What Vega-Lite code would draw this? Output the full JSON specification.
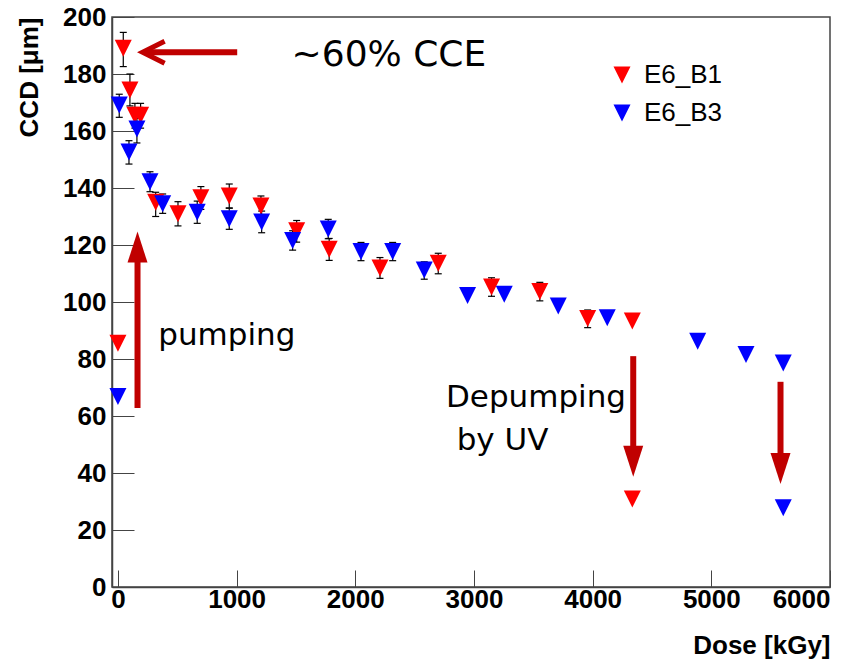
{
  "$schema": "https://vega.github.io/schema/vega-lite/v6.json",
  "width": 718,
  "height": 570,
  "autosize": {"type": "none"},
  "padding": {"left": 112, "top": 17, "right": 26, "bottom": 76},
  "background": "white",
  "config": {
    "view": {"stroke": "#444444", "strokeWidth": 1.5},
    "axis": {
      "domainColor": "#444444", "domainWidth": 1.5, "tickColor": "#444444", "tickWidth": 1,
      "labelFont": "Liberation Sans", "labelFontWeight": "bold", "labelFontSize": 26, "labelColor": "black",
      "titleFont": "Liberation Sans", "titleFontWeight": "bold", "titleFontSize": 26, "titleColor": "black",
      "grid": false, "format": "d"
    },
    "axisX": {"tickSize": -17, "labelPadding": 16, "titleAnchor": "end", "titlePadding": 20, "tickCount": 6},
    "axisY": {"tickSize": -22, "labelPadding": 28, "titleAnchor": "end", "titlePadding": 20, "tickCount": 10}
  },
  "datasets": {
    "pts": [
      {"series": "E6_B1", "x": 0, "y": 85.5},
      {"series": "E6_B1", "x": 45, "y": 189.0},
      {"series": "E6_B1", "x": 101, "y": 174.4},
      {"series": "E6_B1", "x": 143, "y": 165.5},
      {"series": "E6_B1", "x": 191, "y": 165.5},
      {"series": "E6_B1", "x": 318, "y": 135.0},
      {"series": "E6_B1", "x": 506, "y": 131.0},
      {"series": "E6_B1", "x": 699, "y": 136.6},
      {"series": "E6_B1", "x": 938, "y": 137.2},
      {"series": "E6_B1", "x": 1205, "y": 133.7},
      {"series": "E6_B1", "x": 1506, "y": 125.0},
      {"series": "E6_B1", "x": 1780, "y": 118.5},
      {"series": "E6_B1", "x": 2208, "y": 111.9},
      {"series": "E6_B1", "x": 2699, "y": 113.6},
      {"series": "E6_B1", "x": 3148, "y": 105.3},
      {"series": "E6_B1", "x": 3555, "y": 103.7},
      {"series": "E6_B1", "x": 3958, "y": 94.2},
      {"series": "E6_B1", "x": 4334, "y": 93.3},
      {"series": "E6_B1", "x": 4334, "y": 30.9},
      {"series": "E6_B3", "x": 0, "y": 66.8},
      {"series": "E6_B3", "x": 11, "y": 169.1},
      {"series": "E6_B3", "x": 93, "y": 152.6},
      {"series": "E6_B3", "x": 160, "y": 160.7},
      {"series": "E6_B3", "x": 270, "y": 142.2},
      {"series": "E6_B3", "x": 377, "y": 134.5},
      {"series": "E6_B3", "x": 668, "y": 131.5},
      {"series": "E6_B3", "x": 938, "y": 129.2},
      {"series": "E6_B3", "x": 1211, "y": 128.1},
      {"series": "E6_B3", "x": 1472, "y": 121.6},
      {"series": "E6_B3", "x": 1772, "y": 125.6},
      {"series": "E6_B3", "x": 2048, "y": 117.7},
      {"series": "E6_B3", "x": 2315, "y": 117.7},
      {"series": "E6_B3", "x": 2581, "y": 111.2},
      {"series": "E6_B3", "x": 2946, "y": 102.3},
      {"series": "E6_B3", "x": 3255, "y": 102.7},
      {"series": "E6_B3", "x": 3710, "y": 98.6},
      {"series": "E6_B3", "x": 4123, "y": 94.5},
      {"series": "E6_B3", "x": 4885, "y": 86.2},
      {"series": "E6_B3", "x": 5292, "y": 81.6},
      {"series": "E6_B3", "x": 5606, "y": 78.6},
      {"series": "E6_B3", "x": 5606, "y": 27.8}
    ],
    "errs": [
      {"x": 45, "lo": 182.6, "hi": 194.6},
      {"x": 101, "lo": 168.8, "hi": 180.0},
      {"x": 143, "lo": 161.0, "hi": 169.7},
      {"x": 191, "lo": 161.0, "hi": 169.7},
      {"x": 318, "lo": 130.0, "hi": 138.5},
      {"x": 506, "lo": 126.7, "hi": 135.2},
      {"x": 699, "lo": 132.5, "hi": 140.5},
      {"x": 938, "lo": 133.0, "hi": 141.4},
      {"x": 1205, "lo": 130.2, "hi": 137.2},
      {"x": 1506, "lo": 121.0, "hi": 128.6},
      {"x": 1780, "lo": 114.6, "hi": 122.3},
      {"x": 2208, "lo": 108.3, "hi": 115.6},
      {"x": 2699, "lo": 109.9, "hi": 117.1},
      {"x": 3148, "lo": 102.0, "hi": 108.5},
      {"x": 3555, "lo": 100.4, "hi": 106.9},
      {"x": 3958, "lo": 91.0, "hi": 97.2},
      {"x": 11, "lo": 164.8, "hi": 172.9},
      {"x": 93, "lo": 148.4, "hi": 156.6},
      {"x": 160, "lo": 155.8, "hi": 164.5},
      {"x": 270, "lo": 138.7, "hi": 145.7},
      {"x": 377, "lo": 131.1, "hi": 137.9},
      {"x": 668, "lo": 127.6, "hi": 135.4},
      {"x": 938, "lo": 125.5, "hi": 132.9},
      {"x": 1211, "lo": 124.3, "hi": 131.9},
      {"x": 1472, "lo": 118.2, "hi": 125.0},
      {"x": 1772, "lo": 122.2, "hi": 129.0},
      {"x": 2048, "lo": 114.5, "hi": 120.9},
      {"x": 2315, "lo": 114.5, "hi": 120.9},
      {"x": 2581, "lo": 108.0, "hi": 114.1}
    ],
    "shafts": [
      {"x": 225, "x2": 1005, "y": 187.6, "y2": 187.6},
      {"x": 165, "x2": 165, "y": 62.8, "y2": 114.5},
      {"x": 4342, "x2": 4342, "y": 81.0, "y2": 49.0},
      {"x": 5583, "x2": 5583, "y": 72.0, "y2": 46.5}
    ],
    "heads": [
      {"x": 165, "y": 124.7, "dir": "up"},
      {"x": 4342, "y": 38.7, "dir": "down"},
      {"x": 5583, "y": 36.1, "dir": "down"}
    ],
    "chev": [
      {"x": 208, "y": 187.6}
    ],
    "big": [
      {"x": 1463, "y": 182.8, "label": "~60% CCE"}
    ],
    "notes": [
      {"x": 340, "y": 84.9, "label": "pumping"},
      {"x": 2764, "y": 63.3, "label": "Depumping"},
      {"x": 2854, "y": 48.1, "label": "by UV"}
    ]
  },
  "encoding": {
    "x": {"field": "x", "type": "quantitative", "scale": {"domain": [-50, 6000], "nice": false, "zero": false}, "title": "Dose [kGy]"},
    "y": {"field": "y", "type": "quantitative", "scale": {"domain": [0, 200], "nice": false}, "title": "CCD [μm]"}
  },
  "layer": [
    {
      "data": {"name": "errs"},
      "mark": {"type": "rule", "color": "black", "strokeWidth": 1.2},
      "encoding": {
        "y": {"field": "lo", "type": "quantitative", "title": "CCD [μm]"},
        "y2": {"field": "hi"}
      }
    },
    {
      "data": {"name": "errs"},
      "mark": {"type": "tick", "orient": "horizontal", "color": "black", "size": 7, "thickness": 1.2, "opacity": 1},
      "encoding": {"y": {"field": "lo", "type": "quantitative", "title": "CCD [μm]"}}
    },
    {
      "data": {"name": "errs"},
      "mark": {"type": "tick", "orient": "horizontal", "color": "black", "size": 7, "thickness": 1.2, "opacity": 1},
      "encoding": {"y": {"field": "hi", "type": "quantitative", "title": "CCD [μm]"}}
    },
    {
      "data": {"name": "pts"},
      "mark": {"type": "point", "filled": true, "shape": "M-1,-1L1,-1L0,1Z", "size": 289, "opacity": 1, "strokeWidth": 0},
      "encoding": {
        "color": {
          "field": "series", "type": "nominal",
          "scale": {"domain": ["E6_B1", "E6_B3"], "range": ["#ff0000", "#0000ff"]},
          "legend": {
            "title": null, "orient": "none", "legendX": 497, "legendY": 45, "padding": 0,
            "symbolType": "M-1,-1L1,-1L0,1Z", "symbolSize": 289, "symbolStrokeWidth": 0,
            "labelFont": "Liberation Sans", "labelFontSize": 26, "labelColor": "black",
            "labelOffset": 9, "rowPadding": 12
          }
        }
      }
    },
    {
      "data": {"name": "shafts"},
      "mark": {"type": "rule", "color": "#c00000", "strokeWidth": 6, "strokeCap": "butt"},
      "encoding": {
        "x2": {"field": "x2"},
        "y2": {"field": "y2"}
      }
    },
    {
      "data": {"name": "heads"},
      "mark": {"type": "point", "filled": true, "size": 400, "opacity": 1, "color": "#c00000", "strokeWidth": 0},
      "encoding": {
        "shape": {
          "field": "dir", "type": "nominal",
          "scale": {"domain": ["up", "down"], "range": ["M0,0L1,3.1L-1,3.1Z", "M0,0L1,-3.1L-1,-3.1Z"]},
          "legend": null
        }
      }
    },
    {
      "data": {"name": "chev"},
      "mark": {"type": "point", "filled": false, "shape": "M2.2,-1.1L0,0L2.2,1.1", "size": 400, "opacity": 1, "stroke": "#c00000", "strokeWidth": 5, "strokeJoin": "miter"},
      "encoding": {}
    },
    {
      "data": {"name": "big"},
      "mark": {"type": "text", "align": "left", "baseline": "alphabetic", "font": "DejaVu Sans", "fontSize": 36, "color": "black"},
      "encoding": {"text": {"field": "label"}}
    },
    {
      "data": {"name": "notes"},
      "mark": {"type": "text", "align": "left", "baseline": "alphabetic", "font": "DejaVu Sans", "fontSize": 31, "color": "black"},
      "encoding": {"text": {"field": "label"}}
    }
  ]
}
